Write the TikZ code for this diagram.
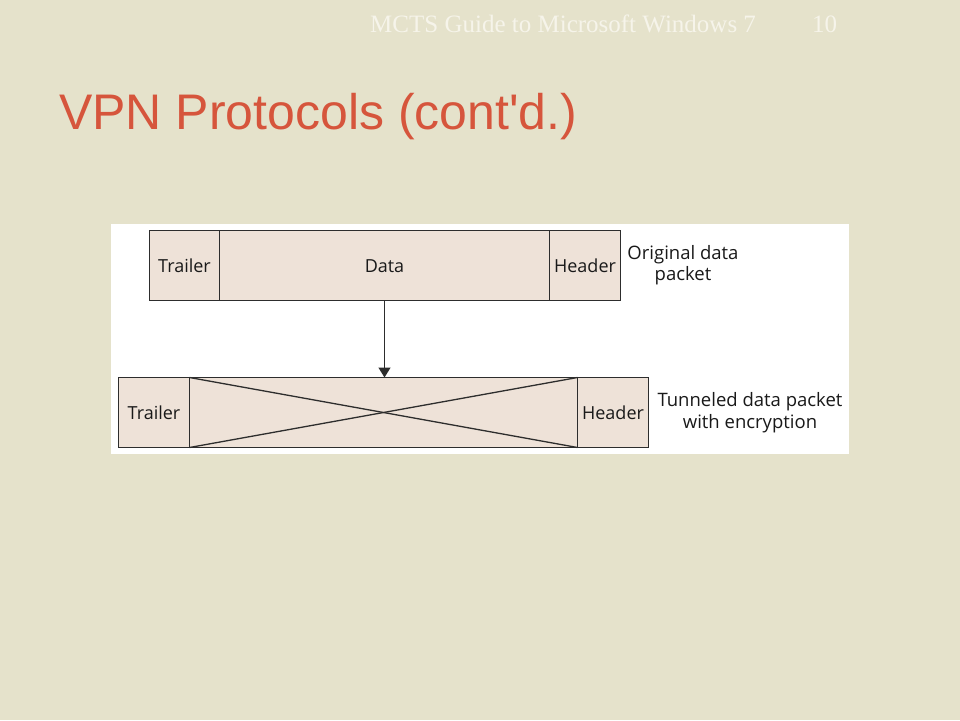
\documentclass[tikz,border=0pt]{standalone}
\usepackage{fontspec}
\setmainfont{Liberation Serif}
\newfontfamily\pktfont{Open Sans}
\newfontfamily\titlefont{Liberation Sans}
\usepackage{tikz}
\usetikzlibrary{arrows.meta,positioning}
\definecolor{slidebg}{RGB}{229,226,203}
\definecolor{titlered}{RGB}{214,85,60}
\definecolor{headwhite}{RGB}{246,244,234}
\definecolor{cellfill}{RGB}{238,226,216}
\definecolor{linegray}{RGB}{45,45,45}
\begin{document}
\begin{tikzpicture}[x=1pt,y=-1pt]
		\tikzstyle{Cell}=[draw=linegray,fill=cellfill,line width=1.3pt,inner sep=0pt,outer sep=0pt,minimum height=70pt,
			text height=13pt,text depth=0pt,font=\pktfont\fontsize{18}{21}\selectfont,text=black!90]
		\tikzstyle{Caption}=[align=center,inner sep=0pt,font=\pktfont\fontsize{18.5}{21.5}\selectfont,text=black!90]
		\fill[slidebg] (0,0) rectangle (960,720);
		\useasboundingbox (0,0) rectangle (960,720);
		\node[anchor=base west,inner sep=0pt,text=headwhite,font=\fontsize{25}{30}\selectfont] (guide) at (370,32) {MCTS Guide to Microsoft Windows 7};
		\node[anchor=base west,inner sep=0pt,text=headwhite,font=\fontsize{25}{30}\selectfont] (pageno) at (812,32) {10};
		\node[anchor=base west,inner sep=0pt,text=titlered,font=\titlefont\fontsize{50}{60}\selectfont] (title) at (59,129) {VPN Protocols (cont'd.)};
		\fill[white] (111,224) rectangle (849,454);
		\node[Cell,minimum width=70pt] (trailA) at (184.5,265.5) {Trailer};
		\node[Cell,minimum width=330pt,right=0pt of trailA] (dataA) {Data};
		\node[Cell,minimum width=71pt,right=0pt of dataA] (headA) {Header};
		\node[Cell,minimum width=71pt] (trailB) at (154,412.5) {Trailer};
		\node[Cell,minimum width=388pt,right=0pt of trailB] (dataB) {};
		\node[Cell,minimum width=71pt,right=0pt of dataB] (headB) {Header};
		\draw[linegray,line width=1.3pt] (dataB.north west) -- (dataB.south east);
		\draw[linegray,line width=1.3pt] (dataB.south west) -- (dataB.north east);
		\draw[linegray,line width=1.3pt,-{Triangle[length=10pt,width=12pt]}] (dataA.south) -- (dataA.south |- dataB.north);
		\node[Caption] (origlbl) at (683,265) {Original data\\packet};
		\node[Caption] (tunlbl) at (750,412.5) {Tunneled data packet\\with encryption};
\end{tikzpicture}
\end{document}
